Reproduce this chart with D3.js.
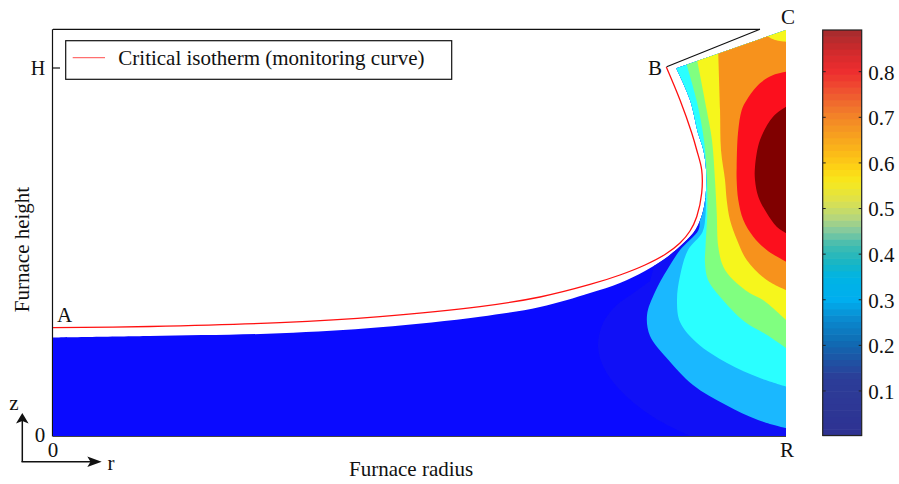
<!DOCTYPE html>
<html><head><meta charset="utf-8">
<script src="https://cdn.jsdelivr.net/npm/d3@7"></script>
<style>
body{margin:0;background:#fff}
svg{display:block}
text{font-family:"Liberation Serif","Times New Roman",serif;fill:#111}
</style>
</head><body>
<svg id="chart" width="899" height="484"></svg>
<script>
// ---------------- DATA (r / R , z / H) ----------------
// solid / melt interface (lower edge of the white melt region), from A-side to B-side
const interfaceCurve = [[0,0.2677],[0.1323,0.2717],[0.3097,0.2791],[0.4461,0.2954],[0.5825,0.3242],[0.6644,0.3505],[0.7326,0.3886],[0.7735,0.4158],[0.8076,0.4484],[0.8372,0.4851],[0.8599,0.5236],[0.8772,0.5625],[0.8872,0.6141],[0.8909,0.6685],[0.8909,0.7228],[0.8872,0.7772],[0.8799,0.8234],[0.8690,0.9130],[0.8503,0.9992]];
const domainTopCorner = [1,1.1033];
// critical isotherm (monitoring curve), A -> B
const isotherm = [[0,0.2943],[0.1323,0.2976],[0.3097,0.3079],[0.4461,0.3242],[0.5825,0.3514],[0.6644,0.3777],[0.7326,0.4117],[0.7735,0.4375],[0.8076,0.4647],[0.8349,0.4932],[0.8554,0.5245],[0.8690,0.5571],[0.8782,0.5959],[0.8850,0.6603],[0.8850,0.7228],[0.8782,0.7772],[0.8714,0.8234],[0.8554,0.9130],[0.8367,1.0027]];
// outline B -> C and top frame
const outlineBC = [[0.8372,1.0035],[0.9645,1.1052]];
const topFrame = [[0,1.1052],[0.9645,1.1052]];

// contour level boundaries (each separates a band from the next higher one)
const cFaint  = [[0.8145,0.4212],[0.7899,0.3859],[0.7690,0.3560],[0.7503,0.3071],[0.7435,0.2418],[0.7531,0.1793],[0.7776,0.1168],[0.8186,0.0516],[0.8690,0]];
const cLight  = [[0.8874,0.6223],[0.8827,0.5951],[0.8806,0.5598],[0.8554,0.5054],[0.8377,0.4511],[0.8213,0.3913],[0.8104,0.3288],[0.8145,0.2717],[0.8372,0.2120],[0.8731,0.1386],[0.9181,0.0842],[0.9618,0.0435],[1,0.0217]];
const cCyan   = [[0.8909,0.6467],[0.8902,0.6005],[0.8861,0.5543],[0.8663,0.5054],[0.8554,0.4348],[0.8513,0.3696],[0.8554,0.3098],[0.8786,0.2527],[0.9195,0.1984],[0.9645,0.1576],[1,0.1345]];
const cGreen  = [[0.8645,1.0090],[0.8779,0.9130],[0.8881,0.8043],[0.8922,0.6957],[0.8926,0.6060],[0.8902,0.5144],[0.8895,0.4701],[0.8936,0.4239],[0.9100,0.3785],[0.9441,0.3098],[0.9741,0.2745],[1,0.2391]];
const cYellow = [[0.8790,1.0190],[0.8918,0.8859],[0.8990,0.8043],[0.9031,0.6957],[0.9055,0.6060],[0.9076,0.5144],[0.9145,0.4601],[0.9281,0.4239],[0.9509,0.3878],[0.9686,0.3696],[1,0.3152]];
const cOrange = [[0.9076,1.0391],[0.9100,0.8859],[0.9113,0.7772],[0.9168,0.6957],[0.9191,0.6413],[0.9236,0.5870],[0.9332,0.5326],[0.9464,0.4783],[0.9737,0.4239],[1,0.3967]];
const cOrangeCorner = [[1,1.0715],[0.9850,1.0761],[0.9768,1.0842],[0.9700,1.0960]];
const cRed    = [[1,0.9899],[0.9827,0.9810],[0.9645,0.9584],[0.9464,0.9130],[0.9396,0.8859],[0.9345,0.8234],[0.9327,0.7310],[0.9327,0.6957],[0.9349,0.6413],[0.9418,0.5870],[0.9554,0.5416],[0.9737,0.5054],[1,0.4736]];
const cDark   = [[1,0.8948],[0.9823,0.8677],[0.9645,0.8043],[0.9577,0.7310],[0.9577,0.6957],[0.9622,0.6503],[0.9737,0.6060],[0.9873,0.5688],[1,0.5516]];

// colour bar
const cbTicks = [0.1,0.2,0.3,0.4,0.5,0.6,0.7,0.8];
const cbRange = [0.0024,0.8914];
const cbStopValues = [0.0,0.13,0.18,0.21,0.26,0.30,0.35,0.38,0.42,0.45,0.48,0.52,0.56,0.59,0.62,0.67,0.71,0.75,0.80,0.84,0.89];

// labels
const legendLabel = "Critical isotherm (monitoring curve)";
const xLabel = "Furnace radius";
const yLabel = "Furnace height";

// ---------------- STYLE ----------------
const bandColors = ["#0a0aff","#1010f6","#1ab8ff","#2affff","#80ff80","#f6f61c","#f7921c","#fc0f1d","#800000"];
const cbStopColors = ["#2e3192","#2c3d98","#1a5aa8","#0f6db4","#0a8bd0","#00aeef","#00b4e5","#16b5c5","#40bcb0","#80c8a0","#b4d67d","#dfe24a","#f7e81c","#fdd315","#fbbc18","#f69a20","#f27e2a","#ef5a30","#ee2e2f","#d52a2c","#a52b2d"];

const svg = d3.select("#chart");
const x = d3.scaleLinear().domain([0,1]).range([53,786]);
const y = d3.scaleLinear().domain([0,1]).range([436,68]);

const smooth = d3.line().x(d=>x(d[0])).y(d=>y(d[1])).curve(d3.curveCatmullRom.alpha(0.5));
const P = d => "L"+x(d[0])+","+y(d[1]);
function build(pieces){
  const s = pieces.map(p => p.s ? "L"+smooth(p.pts).slice(1) : p.pts.map(P).join("")).join("");
  return "M"+s.slice(1)+"Z";
}

// axis frame lines (under the field)
svg.append("line").attr("x1",x(0)-0.5).attr("x2",x(0)-0.5).attr("y1",y(1.1052)).attr("y2",y(0)+0.5).attr("stroke","#111").attr("stroke-width",1.2);
svg.append("line").attr("x1",x(0)).attr("x2",x(1)).attr("y1",y(0)+0.5).attr("y2",y(0)+0.5).attr("stroke","#444").attr("stroke-width",1);

// domain clip
const domainPath = build([{pts:[[0,0]]},{pts:interfaceCurve,s:true},{pts:[domainTopCorner,[1,0]]}]);
svg.append("clipPath").attr("id","dom").append("path").attr("d",domainPath);
const g = svg.append("g").attr("clip-path","url(#dom)");

const TOP = 1.2, RT = 1.03, BOT = -0.05;
const bands = [
  [{pts:[[0,BOT],[0,TOP],[RT,TOP],[RT,BOT]]}],
  [{pts:[[0.8213,0.4728]]},{pts:cFaint,s:true},{pts:[[0.8895,BOT],[RT,BOT],[RT,TOP],[0.8213,TOP]]}],
  [{pts:[[0.80,0.64]]},{pts:cLight,s:true},{pts:[[RT,0.019],[RT,TOP],[0.80,TOP]]}],
  [{pts:[[0.80,0.65]]},{pts:cCyan,s:true},{pts:[[RT,0.1345],[RT,TOP],[0.80,TOP]]}],
  [{pts:[[0.8608,1.0489]]},{pts:cGreen,s:true},{pts:[[RT,0.2391],[RT,TOP],[0.8608,TOP]]}],
  [{pts:[[0.8759,1.0625]]},{pts:cYellow,s:true},{pts:[[RT,0.3152],[RT,TOP],[0.8759,TOP]]}],
  [{pts:[[0.9045,1.0761]]},{pts:cOrange,s:true},{pts:[[RT,0.3967],[RT,1.0715]]},{pts:cOrangeCorner,s:true},{pts:[[0.9650,TOP],[0.9045,TOP]]}],
  [{pts:[[RT,0.9899]]},{pts:cRed,s:true},{pts:[[RT,0.4736]]}],
  [{pts:[[RT,0.8948]]},{pts:cDark,s:true},{pts:[[RT,0.5516]]}]
];
g.selectAll("path.band").data(bands).join("path").attr("class","band")
  .attr("d",d=>build(d)).attr("fill",(d,i)=>bandColors[i]);

// critical isotherm
svg.append("path").attr("d",smooth(isotherm)).attr("fill","none").attr("stroke","#ff1010").attr("stroke-width",1.3);
// frame top and B-C outline
const lin = d3.line().x(d=>x(d[0])).y(d=>y(d[1]));
svg.append("path").attr("d",lin(topFrame)).attr("stroke","#111").attr("stroke-width",1.2).attr("fill","none");
svg.append("path").attr("d",lin(outlineBC)).attr("stroke","#111").attr("stroke-width",1.2).attr("fill","none");

// H tick
svg.append("line").attr("x1",x(0)).attr("x2",x(0)+7).attr("y1",y(1)).attr("y2",y(1)).attr("stroke","#111").attr("stroke-width",1.2);

// texts
const T = (tx,ty,s,anchor,size)=>svg.append("text").attr("x",tx).attr("y",ty).attr("text-anchor",anchor||"middle").attr("font-size",size||21).text(s);
T(38,y(1)+6.5,"H","middle",20);
T(40,y(0)+6,"0");
T(x(0),457,"0");
T(x(1)+1,457,"R");
T(64.5,322,"A");
T(655,75,"B");
T(788,24,"C");
T(14,410,"z");
T(111,470,"r");
T(349,476,xLabel,"start");
svg.append("text").attr("transform","translate(29,249.5) rotate(-90)").attr("text-anchor","middle").attr("font-size",21).text(yLabel);

// coordinate arrows
svg.append("line").attr("x1",22.3).attr("y1",462).attr("x2",22.3).attr("y2",420).attr("stroke","#111").attr("stroke-width",1.5);
svg.append("line").attr("x1",21.5).attr("y1",461.7).attr("x2",94).attr("y2",461.7).attr("stroke","#111").attr("stroke-width",1.5);
svg.append("path").attr("d","M22.3,413 L16,423.5 L22.3,421 L28.6,423.5 Z").attr("fill","#111");
svg.append("path").attr("d","M101.7,461.7 L87.3,456.5 L90.5,461.7 L87.3,466.9 Z").attr("fill","#111");

// legend
svg.append("rect").attr("x",65.7).attr("y",40.7).attr("width",386).attr("height",38.6).attr("fill","#fff").attr("stroke","#111").attr("stroke-width",1.2);
svg.append("line").attr("x1",72.7).attr("x2",105).attr("y1",57.7).attr("y2",57.7).attr("stroke","#ff6f6f").attr("stroke-width",1.3);
T(118.3,65,legendLabel,"start");

// colour bar
const cb = d3.scaleLinear().domain(cbRange).range([435.5,30]);
const cbColor = d3.scaleLinear().domain(cbStopValues).range(cbStopColors).clamp(true);
const nBins = 64;
const binEdges = d3.range(nBins+1).map(i=>cbRange[0]+(cbRange[1]-cbRange[0])*i/nBins);
svg.append("g").selectAll("rect").data(d3.range(nBins)).join("rect")
  .attr("x",822.7).attr("width",39)
  .attr("y",i=>cb(binEdges[i+1])).attr("height",i=>cb(binEdges[i])-cb(binEdges[i+1])+0.6)
  .attr("fill",i=>cbColor((binEdges[i]+binEdges[i+1])/2));
svg.append("rect").attr("x",822.7).attr("y",30).attr("width",39).attr("height",405.5).attr("fill","none").attr("stroke","#222").attr("stroke-width",1.2);
const cbAxis = d3.axisRight(cb).tickValues(cbTicks).tickFormat(d3.format(".1f")).tickSize(0).tickPadding(6);
const ag = svg.append("g").attr("transform","translate(861.7,0)").call(cbAxis);
ag.select(".domain").remove();
ag.selectAll("text").attr("font-size",21).attr("font-family","Liberation Serif, serif").attr("fill","#111").attr("dy","0.35em").attr("x",6.5);
svg.append("g").selectAll("line").data(cbTicks).join("line")
  .attr("x1",822.7).attr("x2",825.7).attr("y1",d=>cb(d)).attr("y2",d=>cb(d)).attr("stroke","#222");
svg.append("g").selectAll("line").data(cbTicks).join("line")
  .attr("x1",858.7).attr("x2",861.7).attr("y1",d=>cb(d)).attr("y2",d=>cb(d)).attr("stroke","#222");
</script>
</body></html>
